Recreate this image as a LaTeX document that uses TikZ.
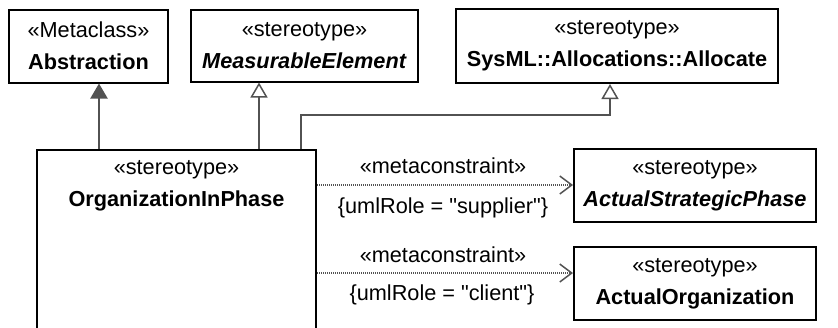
\documentclass[tikz,border=0pt]{standalone}
\usepackage{fontspec}
\setmainfont{Liberation Sans}
\usetikzlibrary{arrows.meta, positioning, calc}
\usepackage{xcolor}
\colorlet{linkgray}{black!68}

\begin{document}
\begin{tikzpicture}[
  x = 1pt, y = -1pt,
  font = \fontsize{21.7}{32}\selectfont,
  %
  % ── Node styles ─────────────────────────────────────────────────
  box/.style     = {draw, line width=2pt, align=center, inner sep=0pt,
                    minimum height=73pt},
  gen/.style     = {draw=linkgray, line width=2pt,
                    -{Triangle[open, length=15pt, width=17pt, line width=1.5pt]}},
  ext/.style     = {draw=linkgray, line width=2pt,
                    -{Triangle[length=15pt, width=17pt]}, fill=linkgray},
  dep/.style     = {draw=linkgray, line width=1.5pt, dash pattern=on 1pt off 1pt,
                    -{Straight Barb[length=12pt, width=18pt, line width=1.5pt]}},
  deplabel/.style= {inner sep=0pt},
]

\path[use as bounding box, clip] (0,0) rectangle (838,327);

%% ═══════════════════════════════════════════════════════════════════
%% TOP ROW — metaclass and parent stereotypes
%% ═══════════════════════════════════════════════════════════════════

\node[box, minimum width=159pt] (abs) at (88.5,46)
  {«Metaclass»\\\textbf{Abstraction}};

\node[box, minimum width=227pt, minimum height=72pt] (meas) at (304.5,45.5)
  {«stereotype»\\\textbf{\textit{MeasurableElement}}};

\node[box, minimum width=322pt, minimum height=74pt] (alloc) at (617,46)
  {«stereotype»\\\textbf{SysML::Allocations::Allocate}};

%% ═══════════════════════════════════════════════════════════════════
%% BOTTOM — the stereotype and its metaconstraint targets
%% ═══════════════════════════════════════════════════════════════════

% big box runs past the lower edge
\node[box, minimum width=279pt, minimum height=260pt, anchor=north] (org)
  at (176.5,149) {};
\node[align=center, anchor=north, inner sep=0pt] (org-name)
  at ([yshift=-11pt]org.north)
  {«stereotype»\\\textbf{OrganizationInPhase}};

\node[box, minimum width=242pt] (asp) at (695,185.5)
  {«stereotype»\\\textbf{\textit{ActualStrategicPhase}}};

\node[box, minimum width=242pt] (ao) at (695,283.5)
  {«stereotype»\\\textbf{ActualOrganization}};

%% ── Generalizations ──────────────────────────────────────────────
\coordinate (org-abs)   at ([xshift=63pt]org.north west);
\coordinate (org-meas)  at ([xshift=223pt]org.north west);
\coordinate (org-alloc) at ([xshift=265pt]org.north west);
\coordinate (alloc-in)  at ([xshift=-7pt]alloc.south);

\draw[ext] (org-abs) -- (org-abs |- abs.south);
\draw[gen] (org-meas) -- (org-meas |- meas.south);
\draw[gen] (org-alloc) -- ++(0pt,34pt) -| (alloc-in);

%% ── Metaconstraints ──────────────────────────────────────────────
\coordinate (asp-in) at ([yshift=0.5pt]asp.west);
\coordinate (ao-in)  at ([yshift=10.5pt]ao.west);

\draw[dep] (org.east |- asp-in) -- (asp-in)
  node[deplabel, midway, above=11pt, xshift=-2pt] (lbl-sup) {«metaconstraint»}
  node[deplabel, midway, below=12pt, xshift=-2pt] (role-sup)
    {\{umlRole = \textquotedbl supplier\textquotedbl\}};
\draw[dep] (org.east |- ao-in) -- (ao-in)
  node[deplabel, midway, above=10pt, xshift=-2pt] (lbl-cli) {«metaconstraint»}
  node[deplabel, midway, below=11pt, xshift=-3pt] (role-cli)
    {\{umlRole = \textquotedbl client\textquotedbl\}};

\end{tikzpicture}
\end{document}
